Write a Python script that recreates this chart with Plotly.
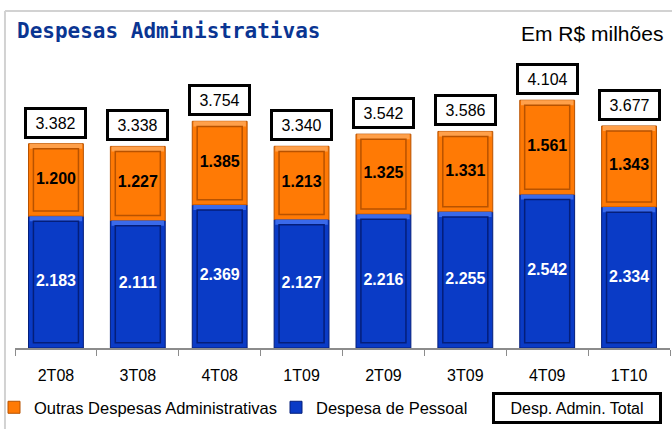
import plotly.graph_objects as go

quarters = ["2T08", "3T08", "4T08", "1T09", "2T09", "3T09", "4T09", "1T10"]
pessoal = [2183, 2111, 2369, 2127, 2216, 2255, 2542, 2334]
outras = [1200, 1227, 1385, 1213, 1325, 1331, 1561, 1343]
totais = [3382, 3338, 3754, 3340, 3542, 3586, 4104, 3677]

series_names = ["Outras Despesas Administrativas", "Despesa de Pessoal"]
total_name = "Desp. Admin. Total"
title_text = "Despesas Administrativas"
unit_text = "Em R$ milhões"


def fmt(v):
    return f"{v:,}".replace(",", ".")


ORANGE, ORANGE_DK, ORANGE_HL = "#FF7A05", "#B85200", "#FFA04A"
BLUE, BLUE_DK, BLUE_HL = "#0A3BC6", "#041E7A", "#3A6AEA"
FONT = "Liberation Sans, Arial, sans-serif"

W_OUT = 0.67
W_IN = 0.55
INSET = 85  # vertical inset in data units for bevel

fig = go.Figure()

# main segments
fig.add_trace(go.Bar(
    x=quarters, y=pessoal, base=[0] * len(quarters), width=W_OUT,
    name=series_names[1], marker=dict(color=BLUE, line=dict(color=BLUE_DK, width=1)),
    legendrank=2, hoverinfo="skip"))
fig.add_trace(go.Bar(
    x=quarters, y=outras, base=pessoal, width=W_OUT,
    name=series_names[0], marker=dict(color=ORANGE, line=dict(color=ORANGE_DK, width=1)),
    legendrank=1, hoverinfo="skip"))

# bevel: top highlight bands
fig.add_trace(go.Bar(
    x=quarters, y=[INSET] * len(quarters), base=[p - INSET for p in pessoal], width=W_OUT - 0.03,
    marker=dict(color=BLUE_HL, line=dict(width=0)), showlegend=False, hoverinfo="skip"))
fig.add_trace(go.Bar(
    x=quarters, y=[INSET] * len(quarters), base=[p + o - INSET for p, o in zip(pessoal, outras)],
    width=W_OUT - 0.03,
    marker=dict(color=ORANGE_HL, line=dict(width=0)), showlegend=False, hoverinfo="skip"))

# bevel: inner panels
fig.add_trace(go.Bar(
    x=quarters, y=[p - 2 * INSET for p in pessoal], base=[INSET] * len(quarters), width=W_IN,
    marker=dict(color=BLUE, line=dict(color=BLUE_DK, width=1.5)), showlegend=False,
    hoverinfo="skip"))
fig.add_trace(go.Bar(
    x=quarters, y=[o - 2 * INSET for o in outras], base=[p + INSET for p in pessoal], width=W_IN,
    marker=dict(color=ORANGE, line=dict(color=ORANGE_DK, width=1.5)), showlegend=False,
    hoverinfo="skip"))

# segment value labels
fig.add_trace(go.Scatter(
    x=quarters, y=[p / 2 for p in pessoal], mode="text", text=[fmt(v) for v in pessoal],
    textfont=dict(family=FONT, size=16, color="white", weight="bold"),
    showlegend=False, hoverinfo="skip"))
fig.add_trace(go.Scatter(
    x=quarters, y=[p + o / 2 for p, o in zip(pessoal, outras)], mode="text",
    text=[fmt(v) for v in outras],
    textfont=dict(family=FONT, size=16, color="black", weight="bold"),
    showlegend=False, hoverinfo="skip"))

# total boxes
for q, p, o, t in zip(quarters, pessoal, outras, totais):
    fig.add_annotation(
        x=q, y=p + o, text=fmt(t), showarrow=False, yshift=21, yanchor="middle",
        font=dict(family=FONT, size=16, color="black"),
        bgcolor="white", bordercolor="black", borderwidth=3, borderpad=2,
        width=53, height=22)

# title and unit
fig.add_annotation(
    xref="paper", yref="paper", x=0.0, y=1.029, xanchor="left", yanchor="middle",
    text=f"<b>{title_text}</b>", showarrow=False,
    font=dict(family="DejaVu Sans Mono", size=21, color="#0A3592"))
fig.add_annotation(
    xref="paper", yref="paper", x=0.993, y=1.022, xanchor="right", yanchor="middle",
    text=unit_text, showarrow=False,
    font=dict(family=FONT, size=21, color="black"))

# legend box for total
fig.add_annotation(
    xref="paper", yref="paper", x=0.858, y=-0.195, xanchor="center", yanchor="middle",
    text=total_name, showarrow=False, font=dict(family=FONT, size=16, color="black"),
    bgcolor="white", bordercolor="black", borderwidth=3, borderpad=3, width=158, height=20)

# frame lines (light gray, top and left)
fig.add_shape(type="line", xref="paper", yref="paper", x0=-0.0153, x1=1.01, y0=1.094, y1=1.094,
              line=dict(color="#D2D2D2", width=2))
fig.add_shape(type="line", xref="paper", yref="paper", x0=-0.0153, x1=-0.0153, y0=1.094, y1=-0.3,
              line=dict(color="#D2D2D2", width=2))

fig.update_layout(
    width=672, height=429,
    margin=dict(l=15, r=2, t=40, b=81, autoexpand=False),
    paper_bgcolor="white", plot_bgcolor="white",
    barmode="overlay",
    showlegend=True,
    legend=dict(orientation="h", xref="container", yref="container", x=0.0, y=0.05,
                xanchor="left", yanchor="middle", font=dict(family=FONT, size=16.5, color="black"),
                entrywidth=243, entrywidthmode="pixels", traceorder="normal",
                indentation=-6, bgcolor="rgba(0,0,0,0)"),
    xaxis=dict(type="category", tickson="boundaries", ticks="outside", ticklen=6,
               tickcolor="#8C8C8C", showline=True, linecolor="#8C8C8C", linewidth=2,
               tickfont=dict(family=FONT, size=16, color="black"), ticklabelstandoff=12,
               showgrid=False, fixedrange=True, automargin=False),
    yaxis=dict(visible=False, range=[0, 5100], fixedrange=True),
)

fig.write_html("out.html", config={"displayModeBar": False},
               post_script="document.body.style.margin='0';")
